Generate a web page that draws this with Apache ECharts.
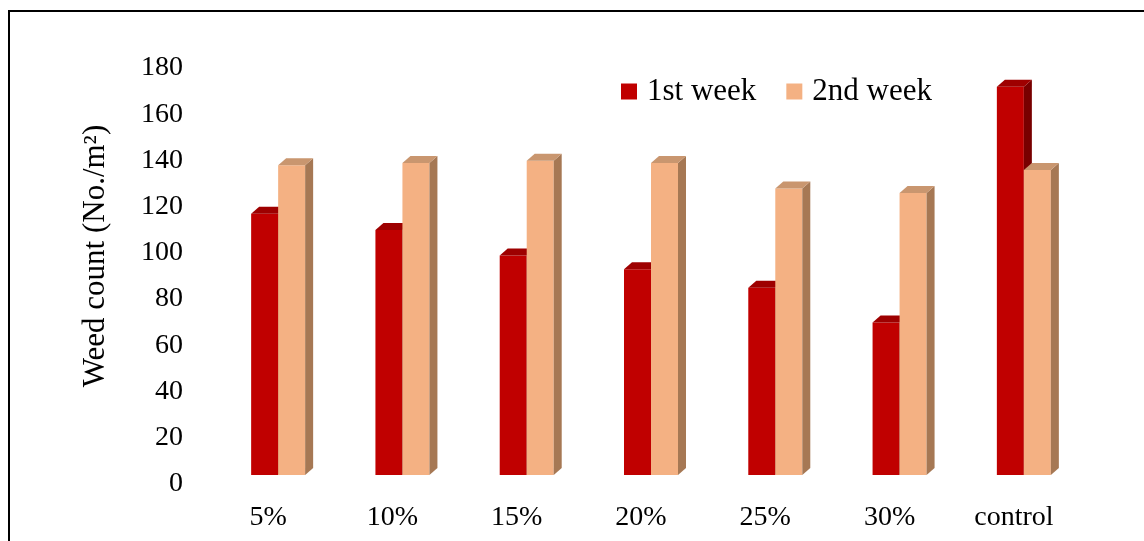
<!DOCTYPE html>
<html>
<head>
<meta charset="utf-8">
<script src="https://cdn.jsdelivr.net/npm/echarts@6/dist/echarts.min.js"></script>
<style>
  html, body { margin: 0; padding: 0; background: #fff; }
  #main { width: 1144px; height: 541px; }
</style>
</head>
<body>
<div id="main"></div>
<script>
// weed count per treatment
var categories = ['5%', '10%', '15%', '20%', '25%', '30%', 'control'];
var week1 = [113, 106, 95, 89, 81, 66, 168];
var week2 = [134, 135, 136, 135, 124, 122, 132];
var yTicks = { min: 0, max: 180, interval: 20 };

var myChart = echarts.init(document.getElementById('main'));

var FONT = '"Liberation Serif", "Times New Roman", serif';
var BAR_W = 27, DX = 8, DY = 7;

// front / top / side colours of each series
var shades = [
    { front: '#C00000', top: '#9E0000', side: '#780000' },
    { front: '#F4B183', top: '#C9966F', side: '#A67854' }
];

function bar3d(which) {
    return function (params, api) {
        var top = api.coord([api.value(0), api.value(1)]);
        var base = api.coord([api.value(0), 0]);
        var x0 = which === 0 ? top[0] - BAR_W : top[0];
        var x1 = x0 + BAR_W;
        var yt = top[1], yb = base[1];
        var c = shades[which];
        return {
            type: 'group',
            children: [
                { type: 'rect', shape: { x: x0, y: yt, width: BAR_W, height: yb - yt }, style: { fill: c.front } },
                { type: 'polygon', shape: { points: [[x1, yt], [x1 + DX, yt - DY], [x1 + DX, yb - DY], [x1, yb]] }, style: { fill: c.side } },
                { type: 'polygon', shape: { points: [[x0, yt], [x0 + DX, yt - DY], [x1 + DX, yt - DY], [x1, yt]] }, style: { fill: c.top } }
            ]
        };
    };
}

function pairs(arr) {
    return arr.map(function (v, i) { return [i, v]; });
}

var option = {
    backgroundColor: '#fff',
    animation: false,
    textStyle: { fontFamily: FONT },
    grid: { left: 216, right: 58, top: 59, bottom: 66 },
    legend: {
        left: 621,
        top: 76,
        padding: 0,
        icon: 'rect',
        itemWidth: 16,
        itemHeight: 16,
        itemGap: 30,
        textStyle: { fontFamily: FONT, fontSize: 31, color: '#000', padding: [0, 0, 0, 5] },
        data: ['1st week', '2nd week']
    },
    xAxis: {
        type: 'category',
        data: categories,
        axisLine: { show: false },
        axisTick: { show: false },
        axisLabel: {
            fontFamily: FONT, fontSize: 28, color: '#000',
            margin: 29, padding: [0, 20, 0, 0]
        }
    },
    yAxis: {
        type: 'value',
        min: yTicks.min,
        max: yTicks.max,
        interval: yTicks.interval,
        axisLine: { show: false },
        axisTick: { show: false },
        splitLine: { show: false },
        axisLabel: {
            fontFamily: FONT, fontSize: 28, color: '#000',
            margin: 33, verticalAlign: 'top', lineHeight: 18
        }
    },
    graphic: [
        {
            type: 'rect',
            shape: { x: 9, y: 11, width: 1200, height: 600 },
            style: { fill: 'none', stroke: '#000', lineWidth: 2 },
            silent: true
        },
        {
            type: 'text',
            x: 96, y: 256,
            rotation: Math.PI / 2,
            style: {
                text: 'Weed count (No./m\u00B2)',
                font: '31px ' + FONT,
                fill: '#000',
                align: 'center',
                verticalAlign: 'middle'
            }
        }
    ],
    series: [
        {
            name: '1st week',
            type: 'custom',
            itemStyle: { color: shades[0].front },
            renderItem: bar3d(0),
            encode: { x: 0, y: 1 },
            data: pairs(week1)
        },
        {
            name: '2nd week',
            type: 'custom',
            itemStyle: { color: shades[1].front },
            renderItem: bar3d(1),
            encode: { x: 0, y: 1 },
            data: pairs(week2)
        }
    ]
};

myChart.setOption(option);
</script>
</body>
</html>
